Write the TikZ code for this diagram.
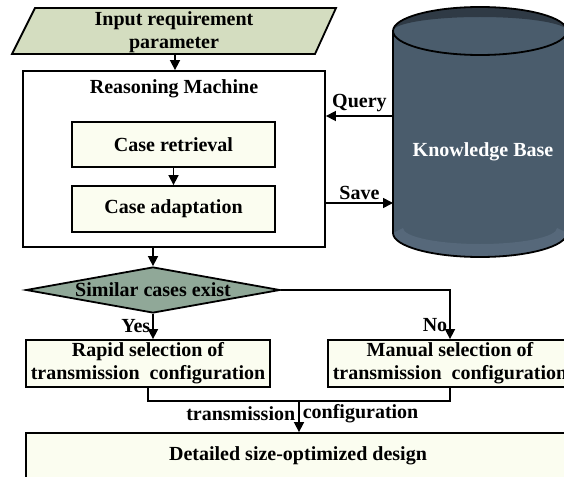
\documentclass[tikz,border=0pt]{standalone}
\usepackage{fontspec}
\setmainfont{Liberation Serif}
\usepackage{tikz}
\usetikzlibrary{shapes.geometric,arrows.meta,positioning}
\definecolor{inputgreen}{HTML}{D4DDC0}
\definecolor{casefill}{HTML}{FBFDF0}
\definecolor{decgreen}{HTML}{90A898}
\definecolor{kbbody}{HTML}{4A5C6C}
\definecolor{kbrim}{HTML}{2F3A45}
\definecolor{kbband}{HTML}{56687A}
\tikzstyle{every node}=[font=\bfseries\fontsize{20}{23}\selectfont]
\tikzstyle{stepbox}=[draw, line width=1.8pt, fill=casefill, inner sep=0pt, align=center]
\tikzstyle{flow}=[line width=1.6pt, -{Triangle[length=10pt,width=10pt]}]
\tikzstyle{edge}=[line width=1.8pt]

\begin{document}
\begin{tikzpicture}[x=1pt,y=-1pt]
\useasboundingbox (0,0) rectangle (564,476);
\draw[edge, fill=inputgreen] (35,8) -- (336,8) -- (315,54) -- (12,54) -- cycle;
\node[align=center] (input) at (174,32) {Input requirement\\parameter};
\coordinate (inbot) at (175,54);

\node[edge, draw, fill=white, minimum width=302, minimum height=176] (reason) at (174,159) {};
\node (title) at (174,89) {Reasoning Machine};
\node[stepbox, minimum width=203, minimum height=45] (retr) at (173.5,144.5) {Case retrieval};
\node[stepbox, minimum width=203, minimum height=46] (adapt) at (173.5,209) {Case adaptation};
\draw[flow] (inbot) -- (inbot |- reason.north);
\draw[flow] (retr.south) -- (adapt.north);

% knowledge base drum
\fill[kbbody] (393,31) -- (393,233) arc[start angle=180, end angle=360, x radius=87pt, y radius=24pt]
  -- (567,31) arc[start angle=0, end angle=180, x radius=87pt, y radius=24pt] -- cycle;
\fill[kbrim] (393,31) arc[start angle=180, end angle=0, x radius=87pt, y radius=24pt]
  arc[start angle=0, end angle=180, x radius=87pt, y radius=14pt] -- cycle;
\fill[kbband] (393,233) arc[start angle=180, end angle=360, x radius=87pt, y radius=24pt]
  -- (557,228) arc[start angle=0, end angle=-180, x radius=77pt, y radius=16pt] -- cycle;
\draw[edge] (393,31) arc[start angle=180, end angle=0, x radius=87pt, y radius=24pt];
\draw[edge] (393,31) arc[start angle=180, end angle=360, x radius=87pt, y radius=24pt];
\draw[edge] (393,31) -- (393,233) arc[start angle=180, end angle=360, x radius=87pt, y radius=24pt];
\node[text=white] (kb) at (483,152) {Knowledge Base};
\coordinate (qry) at (393,116);
\coordinate (sav) at (393,203);
\draw[flow] (qry) -- (qry -| reason.east) node[midway, above, inner sep=3pt] {Query};
\draw[flow] (sav -| reason.east) -- (sav) node[midway, above, inner sep=3pt] {Save};

\node[diamond, draw, edge, fill=decgreen, aspect=5.5, inner sep=0pt,
  minimum width=254, minimum height=46] (dec) at (153,290) {Similar cases exist};
\draw[flow] (dec.north |- reason.south) -- (dec.north);

\node[stepbox, minimum width=244, minimum height=47] (rapid) at (148,363.5) {Rapid selection of\\transmission\ \ configuration};
\node[stepbox, minimum width=244, minimum height=47] (manual) at (450,363.5) {Manual selection of\\transmission\ \ configuration};
\draw[flow] (dec.south) -- (dec.south |- rapid.north) node[midway, left, inner sep=2pt] {Yes};
\draw[flow] (dec.east) -| (manual.north) node[pos=0.86, left, inner sep=2pt] {No};

\node[stepbox, minimum width=544, minimum height=46] (detail) at (298,456) {Detailed size-optimized design};
\coordinate (merge) at (299,401);
\draw[line width=1.6pt] (rapid.south) |- (merge) -| (manual.south);
\draw[flow] (merge) -- (merge |- detail.north)
  node[pos=0.4, left, inner sep=3pt] {transmission}
  node[pos=0.4, right, inner sep=3pt] {configuration};
\end{tikzpicture}
\end{document}
